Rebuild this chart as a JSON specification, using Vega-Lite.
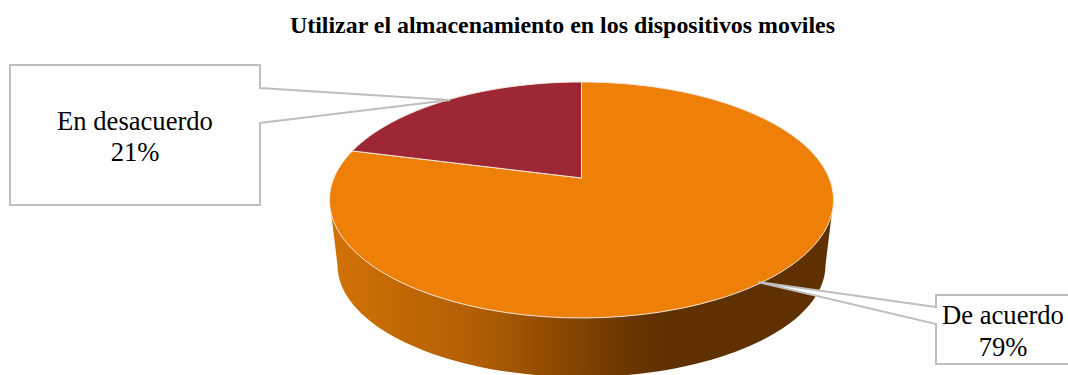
{
  "$schema": "https://vega.github.io/schema/vega-lite/v6.json",
  "width": 974,
  "height": 280,
  "autosize": "none",
  "padding": {"left": 94.5, "top": 38, "right": 0, "bottom": 57},
  "background": "white",
  "title": {
    "text": "Utilizar el almacenamiento en los dispositivos moviles",
    "font": "Liberation Serif",
    "fontSize": 23.9,
    "fontWeight": "bold",
    "color": "#000000",
    "anchor": "middle",
    "dx": -19,
    "offset": 0
  },
  "config": {"view": {"stroke": null}},
  "data": {
    "values": [
      {"categoria": "De acuerdo", "valor": 79},
      {"categoria": "En desacuerdo", "valor": 21}
    ]
  },
  "transform": [
    {"stack": "valor", "groupby": [], "sort": [{"field": "categoria", "order": "ascending"}], "offset": "normalize", "as": ["inicio", "fin"]},
    {"calculate": "round(100 * 247.6 * sin(2 * PI * datum.inicio) / (1 + 0.186 * cos(2 * PI * datum.inicio))) / 100", "as": "sx"},
    {"calculate": "round(-100 * 113.9 * cos(2 * PI * datum.inicio) / (1 + 0.186 * cos(2 * PI * datum.inicio))) / 100", "as": "sy"},
    {"calculate": "round(100 * 247.6 * sin(2 * PI * datum.fin) / (1 + 0.186 * cos(2 * PI * datum.fin))) / 100", "as": "ex"},
    {"calculate": "round(-100 * 113.9 * cos(2 * PI * datum.fin) / (1 + 0.186 * cos(2 * PI * datum.fin))) / 100", "as": "ey"},
    {"calculate": "'M0,0L' + datum.sx + ',' + datum.sy + 'A252,118 0 ' + (datum.fin - datum.inicio > 0.5 ? 1 : 0) + ' 1 ' + datum.ex + ',' + datum.ey + 'Z'", "as": "trazo"},
    {"calculate": "datum.categoria + '\\n' + datum.valor + '%'", "as": "etiqueta"}
  ],
  "layer": [
    {
      "transform": [{"filter": "datum.categoria === 'De acuerdo'"}],
      "mark": {
        "type": "point",
        "filled": true,
        "opacity": 1,
        "size": 4,
        "strokeWidth": 0,
        "shape": "M-252,22L-244,87A244,112 0 0 0 244,87L252,22Z",
        "fill": {
          "x1": 0, "y1": 0, "x2": 1, "y2": 0,
          "gradient": "linear",
          "stops": [
            {"offset": 0, "color": "#D27206"},
            {"offset": 0.3, "color": "#B05E03"},
            {"offset": 0.6, "color": "#683600"},
            {"offset": 0.66, "color": "#5F3100"},
            {"offset": 1, "color": "#5F3100"}
          ]
        }
      }
    },
    {
      "mark": {"type": "point", "filled": true, "opacity": 1, "size": 4, "stroke": "#F5E6DA", "strokeWidth": 1},
      "encoding": {
        "shape": {"field": "trazo", "type": "nominal", "scale": null},
        "fill": {
          "field": "categoria",
          "type": "nominal",
          "scale": {"domain": ["De acuerdo", "En desacuerdo"], "range": ["#EE7F07", "#9E2736"]},
          "legend": null
        }
      }
    },
    {
      "mark": {"type": "point", "filled": true, "opacity": 1, "size": 4, "fill": "white", "stroke": "#BFBFBF", "strokeWidth": 2},
      "encoding": {
        "x": {"field": "categoria", "type": "nominal", "axis": null, "scale": {"type": "point", "domain": ["En desacuerdo", "De acuerdo"], "range": [40.5, 908.5], "padding": 0}},
        "y": {"field": "categoria", "type": "nominal", "axis": null, "scale": {"type": "point", "domain": ["En desacuerdo", "De acuerdo"], "range": [97, 291.5], "padding": 0}},
        "shape": {
          "field": "categoria",
          "type": "nominal",
          "legend": null,
          "scale": {
            "domain": ["En desacuerdo", "De acuerdo"],
            "range": [
              "M-125,-70L125,-70L125,-47L315,-35L125,-12L125,70L-125,70Z",
              "M-67,-34.5L67,-34.5L67,34.5L-67,34.5L-67,-5.5L-245,-47.5L-67,-22.5Z"
            ]
          }
        }
      }
    },
    {
      "mark": {"type": "text", "font": "Liberation Serif", "fontSize": 26.6, "color": "#000000", "align": "center", "baseline": "middle", "lineBreak": "\n", "lineHeight": 31.5, "dy": -13.5},
      "encoding": {
        "x": {"field": "categoria", "type": "nominal", "axis": null, "scale": {"type": "point", "domain": ["En desacuerdo", "De acuerdo"], "range": [40.5, 910.5], "padding": 0}},
        "y": {"field": "categoria", "type": "nominal", "axis": null, "scale": {"type": "point", "domain": ["En desacuerdo", "De acuerdo"], "range": [97, 291.5], "padding": 0}},
        "text": {"field": "etiqueta", "type": "nominal"}
      }
    }
  ]
}
